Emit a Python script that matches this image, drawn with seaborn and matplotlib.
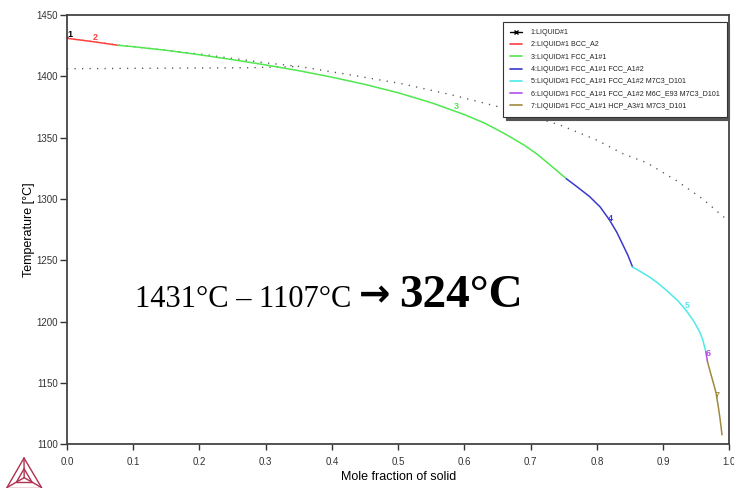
import numpy as np
import pandas as pd
import matplotlib
matplotlib.use("Agg")
import matplotlib.pyplot as plt
from matplotlib.lines import Line2D
import seaborn as sns

# ---------------- data ----------------
seg_names = [
    "1:LIQUID#1",
    "2:LIQUID#1 BCC_A2",
    "3:LIQUID#1 FCC_A1#1",
    "4:LIQUID#1 FCC_A1#1 FCC_A1#2",
    "5:LIQUID#1 FCC_A1#1 FCC_A1#2 M7C3_D101",
    "6:LIQUID#1 FCC_A1#1 FCC_A1#2 M6C_E93 M7C3_D101",
    "7:LIQUID#1 FCC_A1#1 HCP_A3#1 M7C3_D101",
]
seg_colors = ["#000000", "#ff4040", "#4fe84f", "#3a3acc", "#4eeaea", "#b050e8", "#a08a40"]

x1 = [0.0, 0.002]
t1 = [1431.5, 1431.0]
x2 = [0.0, 0.04, 0.077]
t2 = [1431.0, 1428.2, 1425.3]
x3 = [0.077, 0.1, 0.15, 0.2, 0.25, 0.3, 0.35, 0.4, 0.45, 0.5, 0.55, 0.6,
      0.63, 0.66, 0.69, 0.71, 0.73, 0.754]
t3 = [1425.3, 1424.2, 1421.2, 1417.6, 1413.6, 1409.3, 1404.6, 1399.3, 1393.4, 1386.6, 1378.5, 1368.8,
      1362.0, 1353.5, 1344.0, 1336.5, 1327.5, 1316.5]
x4 = [0.754, 0.77, 0.789, 0.805, 0.819, 0.83, 0.839, 0.847, 0.854]
t4 = [1316.5, 1310.0, 1302.0, 1293.5, 1283.0, 1273.0, 1263.0, 1254.0, 1244.5]
x5 = [0.854, 0.866, 0.879, 0.892, 0.905, 0.922, 0.935, 0.945, 0.955, 0.96, 0.9645]
t5 = [1244.5, 1240.8, 1236.6, 1231.5, 1225.6, 1217.2, 1209.0, 1201.5, 1192.0, 1185.0, 1175.6]
x6 = [0.9645, 0.967]
t6 = [1175.6, 1167.5]
x7 = [0.967, 0.972, 0.977, 0.980, 0.983, 0.986, 0.989]
t7 = [1167.5, 1157.5, 1148.0, 1141.7, 1132.0, 1121.0, 1107.7]

# dotted equilibrium curves
xe1 = [0.0, 0.077, 0.2, 0.3, 0.351, 0.43, 0.507, 0.58, 0.653, 0.744, 0.8, 0.839, 0.876, 0.92, 0.96, 0.99, 1.0]
te1 = [1431.0, 1425.5, 1418.2, 1411.0, 1408.0, 1401.0, 1393.8, 1385.0, 1375.0, 1360.4, 1348.0, 1337.0, 1329.4, 1315.0, 1300.0, 1286.0, 1282.0]
xe2 = [0.0, 0.276, 0.35]
te2 = [1406.2, 1407.0, 1408.0]

label_x = [0.0045, 0.043, 0.588, 0.821, 0.937, 0.968, 0.982]
label_t = [1434.5, 1432.0, 1375.0, 1284.0, 1213.0, 1174.0, 1140.0]
label_txt = ["1", "2", "3", "4", "5", "6", "7"]

xticks = [0.0, 0.1, 0.2, 0.3, 0.4, 0.5, 0.6, 0.7, 0.8, 0.9, 1.0]
yticks = [1100, 1150, 1200, 1250, 1300, 1350, 1400, 1450]

# ---------------- build frame ----------------
xs = [x1, x2, x3, x4, x5, x6, x7]
ts = [t1, t2, t3, t4, t5, t6, t7]
rows = []
for name, xx, tt in zip(seg_names, xs, ts):
    for a, b in zip(xx, tt):
        rows.append((name, a, b))
df = pd.DataFrame(rows, columns=["segment", "x", "T"])
deq = pd.DataFrame({"x": xe1 + xe2,
                    "T": te1 + te2,
                    "curve": ["a"] * len(xe1) + ["b"] * len(xe2)})

# ---------------- figure ----------------
sns.set_style("ticks")
plt.rcParams["font.family"] = ["Liberation Sans", "DejaVu Sans"]
plt.rcParams["text.color"] = "black"
plt.rcParams["axes.labelcolor"] = "black"

fig = plt.figure(figsize=(7.34, 4.88), dpi=100)
W, H = 734, 488
ax = fig.add_axes([67 / W, 1 - 444.3 / H, (729.3 - 67) / W, (444.3 - 15) / H])

sns.lineplot(data=deq, x="x", y="T", units="curve", estimator=None, sort=False,
             color="#555555", lw=1.0, ax=ax, legend=False)
for ln in ax.get_lines():
    ln.set_linestyle((0, (0.9, 4.5)))

sns.lineplot(data=df, x="x", y="T", hue="segment", hue_order=seg_names,
             palette=dict(zip(seg_names, seg_colors)), estimator=None, sort=False,
             lw=1.1, ax=ax, legend=False)

for lx, lt, txt, c in zip(label_x, label_t, label_txt, seg_colors):
    ax.text(lx, lt, txt, color=c, fontsize=6.5, fontweight="bold", ha="center", va="center")

ax.set_xlim(0, 1.0)
ax.set_ylim(1100, 1450)
ax.set_xticks(xticks)
ax.set_xticklabels([f"{v:.1f}" for v in xticks])
ax.set_yticks(yticks)
ax.tick_params(axis="x", length=4, width=1, pad=5, labelsize=7, colors="#333333", labelcolor="#333333")
ax.tick_params(axis="y", length=5, width=1, pad=1.5, labelsize=7, colors="#333333", labelcolor="#333333")
for s in ax.spines.values():
    s.set_visible(True)
    s.set_color("#444444")
    s.set_linewidth(1.3)
ax.set_xlabel("Mole fraction of solid", fontsize=9, labelpad=3)
ax.set_ylabel("Temperature [°C]", fontsize=9, labelpad=1)

# legend
handles = []
for name, c in zip(seg_names, seg_colors):
    if name.startswith("1:"):
        handles.append(Line2D([], [], color=c, lw=1, marker="x", markersize=2.5))
    else:
        handles.append(Line2D([], [], color=c, lw=1.2))
leg = ax.legend(handles, seg_names, loc="upper left",
                bbox_to_anchor=(503 / W, 1 - 22 / H), bbox_transform=fig.transFigure,
                fontsize=5.1, handlelength=1.7, handletextpad=1.2, labelspacing=0.75,
                borderpad=1.0, borderaxespad=0, frameon=True, fancybox=False,
                shadow={"color": "#555555", "alpha": 1.0})
leg.get_frame().set_edgecolor("#333333")
leg.get_frame().set_linewidth(0.8)
for t in leg.get_texts():
    t.set_color("#222222")

# annotation
serif = ["Liberation Serif", "DejaVu Serif"]
fig.text(135 / W, 1 - 307 / H, "1431°C – 1107°C", fontsize=22,
         family=serif, ha="left", va="baseline", color="black")
fig.text(375 / W, 1 - 296 / H, "→", fontsize=27, fontweight="bold",
         family=["DejaVu Sans"], ha="center", va="center", color="black")
fig.text(399 / W, 1 - 307 / H, "324°C", fontsize=34, fontweight="bold",
         family=serif, ha="left", va="baseline", color="black")

# logo
lc = "#b03050"
A = (24 / W, 1 - 458 / H)
B = (7 / W, 1 - 487.5 / H)
C = (41.5 / W, 1 - 487.5 / H)
O = ((A[0] + B[0] + C[0]) / 3, (A[1] + B[1] + C[1]) / 3)
def mid(p, q, f=0.5):
    return (p[0] + (q[0] - p[0]) * f, p[1] + (q[1] - p[1]) * f)
Ai, Bi, Ci = mid(O, A, 0.45), mid(O, B, 0.45), mid(O, C, 0.45)
for p, q in [(A, B), (B, C), (C, A), (Ai, Bi), (Bi, Ci), (Ci, Ai), (A, O), (B, O), (C, O)]:
    fig.add_artist(Line2D([p[0], q[0]], [p[1], q[1]], color=lc, lw=1.0, transform=fig.transFigure))

fig.savefig("out.png", dpi=100)
